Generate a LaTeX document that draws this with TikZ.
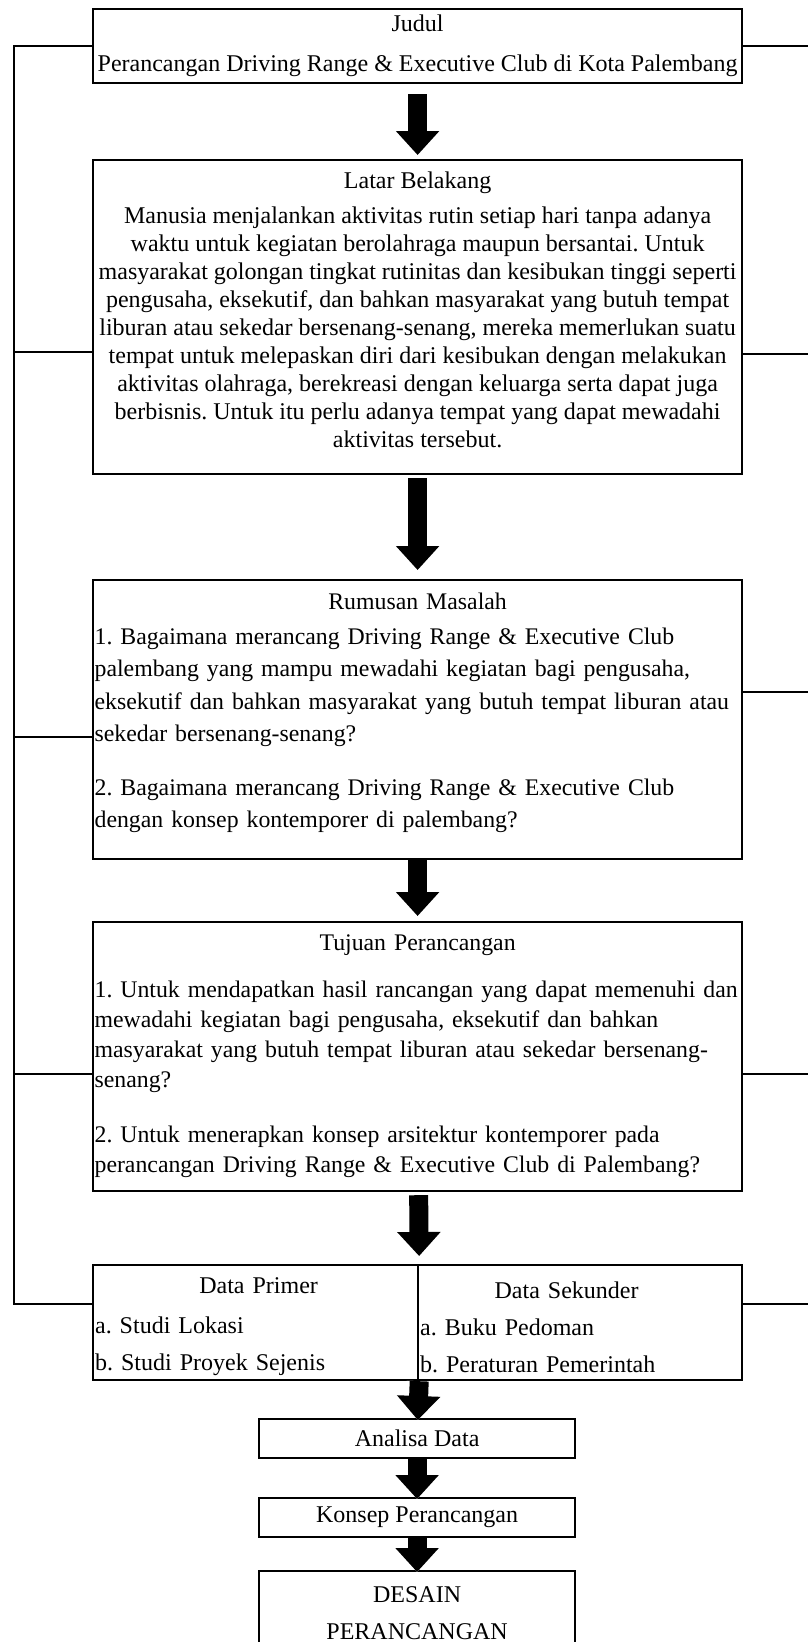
\documentclass[tikz,border=0pt]{standalone}
\usepackage{fontspec}
\setmainfont{Liberation Serif}
\usepackage{tikz}
\usetikzlibrary{arrows.meta,positioning,calc}

\begin{document}
\frenchspacing
\begin{tikzpicture}[
  x=1pt,y=-1pt,
  font=\fontsize{24}{28}\selectfont,
  box/.style={draw,line width=2.2pt,anchor=north west,inner sep=2pt,minimum width=649pt},
  txt/.style={box,inner xsep=1.5pt,text width=646pt,align=left},
  half/.style={draw,line width=2.2pt,anchor=north west,inner sep=2pt,minimum height=115pt,align=left},
  small/.style={draw,line width=2.2pt,anchor=north west,inner sep=0pt,minimum width=316pt,minimum height=39pt,align=center},
  fat/.style={line width=19pt,-{Triangle[width=42pt,length=24pt]},
    preaction={draw=white,line width=25pt,-{Triangle[width=50pt,length=28pt]}}},
  side/.style={line width=2.2pt},
]
\useasboundingbox (0,0) rectangle (808,1642);

% main column
\node[box,align=center,minimum height=74pt] (judul) at (92,8)
  {Judul\\[12pt]Perancangan Driving Range \& Executive Club di Kota Palembang};
\node[box,align=center,minimum height=314pt,font=\fontsize{24}{28.1}\selectfont] (latar) at (92,159)
  {Latar Belakang\\[6.5pt]
   Manusia menjalankan aktivitas rutin setiap hari tanpa adanya\\
   waktu untuk kegiatan berolahraga maupun bersantai. Untuk\\
   masyarakat golongan tingkat rutinitas dan kesibukan tinggi seperti\\
   pengusaha, eksekutif, dan bahkan masyarakat yang butuh tempat\\
   liburan atau sekedar bersenang-senang, mereka memerlukan suatu\\
   tempat untuk melepaskan diri dari kesibukan dengan melakukan\\
   aktivitas olahraga, berekreasi dengan keluarga serta dapat juga\\
   berbisnis. Untuk itu perlu adanya tempat yang dapat mewadahi\\
   aktivitas tersebut.\\[-13.5pt]\mbox{}};
\node[txt,minimum height=279pt,font=\fontsize{23.8}{32.5}\selectfont] (rumusan) at (92,579)
  {\makebox[\linewidth]{Rumusan Masalah}\\[2.5pt]
   1. Bagaimana merancang Driving Range \& Executive Club\\
   palembang yang mampu mewadahi kegiatan bagi pengusaha,\\
   eksekutif dan bahkan masyarakat yang butuh tempat liburan atau\\
   sekedar bersenang-senang?\\[21pt]
   2. Bagaimana merancang Driving Range \& Executive Club\\
   dengan konsep kontemporer di palembang?\\[-14pt]\mbox{}};
\node[txt,minimum height=269pt,font=\fontsize{23.8}{30}\selectfont] (tujuan) at (92,921)
  {\makebox[\linewidth]{Tujuan Perancangan}\\[17pt]
   1. Untuk mendapatkan hasil rancangan yang dapat memenuhi dan\\
   mewadahi kegiatan bagi pengusaha, eksekutif dan bahkan\\
   masyarakat yang butuh tempat liburan atau sekedar bersenang-\\
   senang?\\[25pt]
   2. Untuk menerapkan konsep arsitektur kontemporer pada\\
   perancangan Driving Range \& Executive Club di Palembang?};

% data (two halves)
\node[half,minimum width=325pt,text width=321pt] (primer) at (92,1264)
  {\rule{0pt}{24pt}\makebox[\linewidth]{\hspace{6pt}Data Primer}\\[12pt]
   a. Studi Lokasi\\[9pt]
   b. Studi Proyek Sejenis};
\node[half,minimum width=324pt,text width=320pt] (sekunder) at (417,1264)
  {\rule{0pt}{27pt}\makebox[\linewidth]{Data Sekunder\hspace{27pt}}\\[9pt]
   a. Buku Pedoman\\[9pt]
   b. Peraturan Pemerintah};

% bottom steps
\node[small] (analisa) at (258,1418) {Analisa Data};
\node[small] (konsep) at (258,1497) {Konsep Perancangan};
\node[small,minimum height=84pt,font=\fontsize{24}{37}\selectfont] (desain) at (258,1570) {DESAIN\\PERANCANGAN};

% arrows
\draw[fat,shorten <=10pt,shorten >=4pt] (judul) -- (latar);
\draw[fat,shorten <=3pt,shorten >=9pt] (latar) -- (rumusan);
\draw[fat,shorten <=0pt,shorten >=5pt] (rumusan) -- (tujuan);
\draw[fat,shorten <=3pt,shorten >=8pt] (tujuan) -- (primer.north east);
\draw[fat,shorten >=-2pt] (primer.south east) -- (analisa);
\draw[fat,shorten >=-2pt] (analisa) -- (konsep);
\draw[fat,shorten >=-2pt] (konsep) -- (desain);

% side lines
\draw[side] (judul.west) -- ++(-78,0) |- ([yshift=18.5]primer.west);
\draw[side] ([yshift=-35]latar.west) -- ++(-78,0);
\draw[side] ([yshift=-17.5]rumusan.west) -- ++(-78,0);
\draw[side] ([yshift=-17.5]tujuan.west) -- ++(-78,0);
\draw[side] (judul.east) -- ++(67,0);
\draw[side] ([yshift=-37]latar.east) -- ++(67,0);
\draw[side] ([yshift=27.5]rumusan.east) -- ++(67,0);
\draw[side] ([yshift=-17.5]tujuan.east) -- ++(67,0);
\draw[side] ([yshift=18.5]sekunder.east) -- ++(67,0);
\end{tikzpicture}
\end{document}
